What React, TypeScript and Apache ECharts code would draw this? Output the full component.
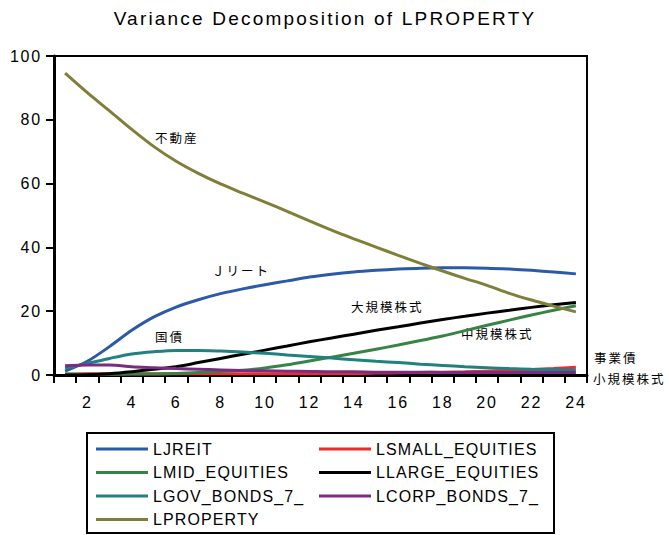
import React, { useEffect, useRef } from "react";
import * as echarts from "echarts";

const periods = ["1","2","3","4","5","6","7","8","9","10","11","12","13","14","15","16","17","18","19","20","21","22","23","24"];

const LJREIT = [1.2, 4.3, 8.9, 14.0, 18.2, 21.3, 23.6, 25.5, 27.0, 28.3, 29.5, 30.7, 31.6, 32.3, 32.8, 33.2, 33.5, 33.6, 33.6, 33.5, 33.2, 32.8, 32.3, 31.7];
const LSMALL_EQUITIES = [0.3, 0.4, 0.4, 0.4, 0.4, 0.4, 0.4, 0.4, 0.4, 0.4, 0.4, 0.4, 0.5, 0.5, 0.6, 0.7, 0.8, 0.9, 1.0, 1.2, 1.4, 1.7, 2.0, 2.4];
const LMID_EQUITIES = [0.2, 0.2, 0.2, 0.3, 0.3, 0.5, 0.8, 1.1, 1.5, 2.2, 3.2, 4.4, 5.6, 6.8, 8.1, 9.4, 10.8, 12.2, 13.9, 15.6, 17.2, 18.8, 20.3, 21.7];
const LLARGE_EQUITIES = [0.0, 0.1, 0.4, 1.0, 1.8, 2.6, 3.9, 5.2, 6.5, 7.8, 9.1, 10.4, 11.6, 12.8, 14.0, 15.1, 16.3, 17.4, 18.4, 19.4, 20.3, 21.2, 22.0, 22.7];
const LGOV_BONDS_7_ = [2.1, 3.6, 5.2, 6.6, 7.3, 7.7, 7.7, 7.5, 7.2, 6.8, 6.3, 5.8, 5.3, 4.8, 4.3, 3.9, 3.4, 3.0, 2.6, 2.3, 2.0, 1.8, 1.7, 1.6];
const LCORP_BONDS_7_ = [2.9, 3.1, 3.1, 2.6, 2.3, 2.0, 1.8, 1.6, 1.4, 1.3, 1.2, 1.1, 1.0, 1.0, 0.9, 0.9, 0.9, 0.8, 0.8, 0.8, 0.8, 0.8, 0.8, 0.8];
const LPROPERTY = [94.6, 88.5, 82.8, 77.0, 71.6, 67.0, 63.2, 59.9, 57.0, 54.2, 51.3, 48.3, 45.4, 42.7, 40.1, 37.5, 35.0, 32.6, 30.3, 28.1, 25.6, 23.5, 21.6, 19.8];

const seriesNames = ["LJREIT", "LSMALL_EQUITIES", "LMID_EQUITIES", "LLARGE_EQUITIES", "LGOV_BONDS_7_", "LCORP_BONDS_7_", "LPROPERTY"];
const seriesData = [LJREIT, LSMALL_EQUITIES, LMID_EQUITIES, LLARGE_EQUITIES, LGOV_BONDS_7_, LCORP_BONDS_7_, LPROPERTY];
const seriesColors = ["#2b5aa8", "#ee2b2b", "#378446", "#000000", "#21817f", "#7d2a82", "#7f7f3a"];

const yTicks = { min: 0, max: 100, interval: 20 };

const annotations = [
  { text: "不動産", x: 155, y: 137 },
  { text: "Ｊリート", x: 212, y: 270 },
  { text: "国債", x: 155, y: 336 },
  { text: "大規模株式", x: 351, y: 306 },
  { text: "中規模株式", x: 461, y: 333 },
  { text: "事業債", x: 594, y: 357 },
  { text: "小規模株式", x: 593, y: 378 },
];

// family lists double as CSS hooks for letter spacing
const TITLE_FONT = "Liberation Sans, Helvetica, sans-serif";
const AXIS_FONT = "Liberation Sans, Arial, sans-serif";
const LEGEND_FONT = "Liberation Sans, Arimo, sans-serif";
const CJK = "Noto Sans CJK JP, sans-serif";

const css = `
#chart text[style*="Helvetica"] { letter-spacing: 2.2px; }
#chart text[style*="Arial"] { letter-spacing: 1.8px; }
#chart text[style*="Arimo"] { letter-spacing: 1.1px; }
#chart text[style*="Noto Sans CJK"] { letter-spacing: 2px; }
`;

export default function App() {
  const ref = useRef<HTMLDivElement>(null);
  useEffect(() => {
    if (!ref.current) return;
    const chart = echarts.init(ref.current, null, { renderer: "svg" });
    const legendText = { fontFamily: LEGEND_FONT, fontSize: 16, color: "#000", lineHeight: 16 };
    chart.setOption({
      animation: false,
      backgroundColor: "#ffffff",
      title: {
        text: "Variance Decomposition of LPROPERTY",
        left: 320,
        textAlign: "center",
        top: 4,
        textStyle: { fontFamily: TITLE_FONT, fontSize: 19, fontWeight: "normal", color: "#000" },
      },
      grid: {
        left: 54, right: 82, top: 56, bottom: 160,
        show: true, borderColor: "#000", borderWidth: 2, backgroundColor: "transparent",
      },
      legend: [
        {
          data: ["LJREIT", "LMID_EQUITIES", "LGOV_BONDS_7_", "LPROPERTY"],
          orient: "vertical", left: 96, top: 441, padding: 0, itemWidth: 52, itemHeight: 3, itemGap: 7.5,
          icon: "rect", selectedMode: false, textStyle: legendText,
        },
        {
          data: ["LSMALL_EQUITIES", "LLARGE_EQUITIES", "LCORP_BONDS_7_"],
          orient: "vertical", left: 319, top: 441, padding: 0, itemWidth: 52, itemHeight: 3, itemGap: 7.5,
          icon: "rect", selectedMode: false, textStyle: legendText,
        },
      ],
      xAxis: {
        type: "category",
        data: periods,
        boundaryGap: true,
        axisLine: { lineStyle: { color: "#000", width: 3 } },
        axisTick: { show: true, interval: 0, length: 8, lineStyle: { color: "#000", width: 2 } },
        axisLabel: {
          interval: 0,
          formatter: (v: string) => (Number(v) % 2 === 0 ? v : ""),
          fontFamily: AXIS_FONT, fontSize: 16, color: "#000", margin: 19,
        },
        splitLine: { show: false },
      },
      yAxis: {
        type: "value",
        min: yTicks.min, max: yTicks.max, interval: yTicks.interval,
        axisLine: { show: true, lineStyle: { color: "#000", width: 3 } },
        axisTick: { show: true, length: 8, lineStyle: { color: "#000", width: 2 } },
        axisLabel: { fontFamily: AXIS_FONT, fontSize: 16, color: "#000", margin: 12 },
        splitLine: { show: false },
      },
      series: seriesNames.map((name, i) => ({
        name,
        type: "line",
        data: seriesData[i],
        showSymbol: false,
        symbol: "none",
        smooth: 0.3,
        color: seriesColors[i],
        lineStyle: { color: seriesColors[i], width: 3 },
      })),
      graphic: [
        {
          type: "rect",
          shape: { x: 87, y: 433, width: 467, height: 100 },
          style: { fill: "none", stroke: "#000", lineWidth: 2 },
          silent: true,
        },
        ...annotations.map((a) => ({
          type: "text",
          x: a.x,
          y: a.y,
          style: {
            text: a.text,
            fill: "#000",
            font: `12.5px ${CJK}`,
            verticalAlign: "middle",
          },
          silent: true,
        })),
      ],
    });
    return () => chart.dispose();
  }, []);
  return (
    <>
      <style>{css}</style>
      <div
        id="chart"
        ref={ref}
        style={{ position: "fixed", left: 0, top: 0, width: 669, height: 535, background: "#fff" }}
      />
    </>
  );
}
